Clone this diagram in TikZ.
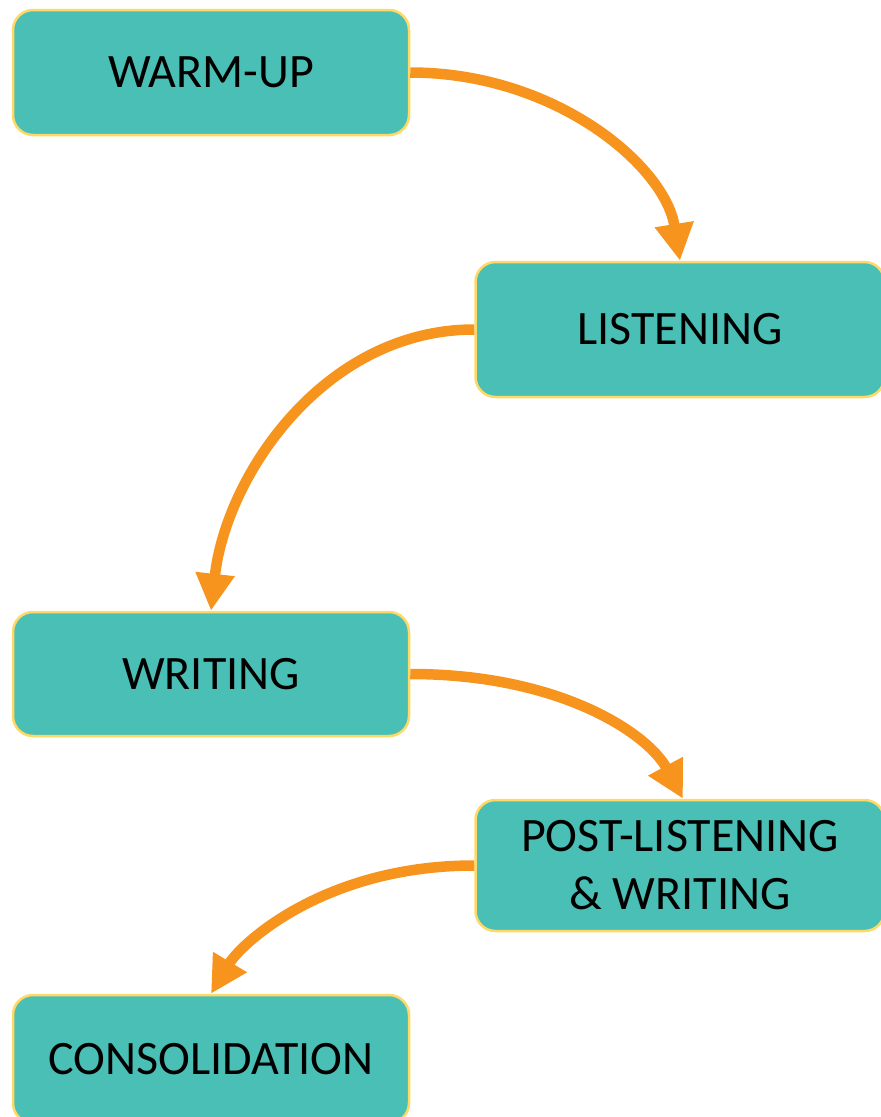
\documentclass[tikz,border=0pt]{standalone}
\usepackage{fontspec}
\setmainfont{Carlito}
\usetikzlibrary{arrows.meta}
\definecolor{boxteal}{HTML}{4ABFB5}
\definecolor{boxgold}{HTML}{FFD966}
\definecolor{arrorange}{HTML}{F7941D}
\tikzset{
  stagebox/.style={draw=boxgold, line width=2.5pt, fill=boxteal, rounded corners=20pt,
    align=center, inner sep=0pt, font=\fontsize{48}{58}\selectfont, text=black},
  flow/.style={draw=arrorange, line width=10.5pt, -{Triangle[width=37pt,length=37pt]}}
}
\begin{document}
\begin{tikzpicture}[x=1pt,y=-1pt]
\useasboundingbox (0,0) rectangle (881,1117);
\node[stagebox, minimum width=396pt, minimum height=125pt] (warm) at (211,72.5) {WARM-UP};
\node[stagebox, minimum width=409pt, minimum height=135pt] (listen) at (680,329.5) {LISTENING};
\node[stagebox, minimum width=396pt, minimum height=124pt] (writing) at (211,674) {WRITING};
\node[stagebox, minimum width=409pt, minimum height=131pt] (post) at (680,865.5) {POST-LISTENING\\\& WRITING};
\node[stagebox, minimum width=396pt, minimum height=128pt] (cons) at (211,1059) {CONSOLIDATION};
\draw[flow] (warm.east) .. controls +(145,0) and +(-15,-95) .. (listen.north);
\draw[flow] (listen.west) .. controls +(-150,0) and +(15,-135) .. (writing.north);
\draw[flow] (writing.east) .. controls +(150,0) and +(-35,-65) .. ([xshift=3pt]post.north);
\draw[flow] (post.west) .. controls +(-150,0) and +(30,-50) .. (cons.north);
\end{tikzpicture}
\end{document}
